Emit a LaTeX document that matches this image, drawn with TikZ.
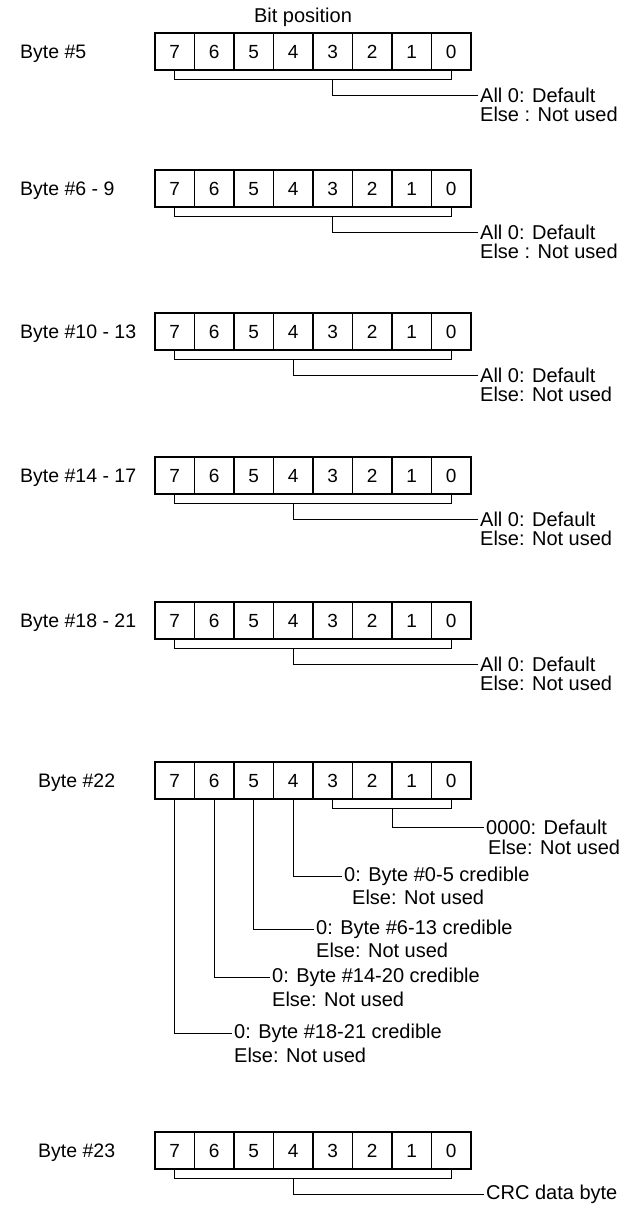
\documentclass[tikz,border=0pt]{standalone}
\usepackage{fontspec}
\setmainfont{Liberation Sans}
\usetikzlibrary{positioning, calc}

\begin{document}
\begin{tikzpicture}[
  x=1pt, y=-1pt,
  every node/.style={font=\fontsize{20}{24}\selectfont},
  bitcell/.style={rectangle, draw, line width=1.5pt,
                  minimum width=39.5pt, minimum height=37pt, inner sep=0pt,
                  text height=13.6pt, text depth=0pt,
                  font=\fontsize{19}{23}\selectfont},
  bytelbl/.style={anchor=base west, inner sep=0pt, font=\fontsize{19.5}{23}\selectfont},
  note/.style={anchor=west, inner sep=2pt},
  brk/.style={line width=1pt},
]
\useasboundingbox (0,0) rectangle (624,1205);

\node (bitpos) at (303,17) {Bit position};

% the eight bit cells of every byte
\foreach \r/\ty in {r5/51.5, r6/188.5, r10/331.5, r14/475.5,
                    r18/620.5, r22/780.5, r23/1150.5}
  \foreach \b in {0,...,7}
    \node[bitcell] (\r-\b) at ({155+39.5*(7-\b)+19.75},\ty) {\b};

% Byte #5
\node[bytelbl] (l5) at (20,58.5) {Byte \#5};
\node[note] (d5) at (478,95)  {All 0: Default};
\node[note] (e5) at (478,114) {Else : Not used};
\draw[brk] (r5-7.south) -- ++(0,9) coordinate (k5) -| (r5-0.south);
\draw[brk] (r5-3.south |- k5) |- (d5.west);

% Byte #6 - 9
\node[bytelbl] (l6) at (20,195.5) {Byte \#6 - 9};
\node[note] (d6) at (478,232) {All 0: Default};
\node[note] (e6) at (478,251) {Else : Not used};
\draw[brk] (r6-7.south) -- ++(0,9) coordinate (k6) -| (r6-0.south);
\draw[brk] (r6-3.south |- k6) |- (d6.west);

% Byte #10 - 13
\node[bytelbl] (l10) at (20,338.5) {Byte \#10 - 13};
\node[note] (d10) at (478,375) {All 0: Default};
\node[note] (e10) at (478,394) {Else: Not used};
\draw[brk] (r10-7.south) -- ++(0,9) coordinate (k10) -| (r10-0.south);
\draw[brk] (r10-4.south |- k10) |- (d10.west);

% Byte #14 - 17
\node[bytelbl] (l14) at (20,482.5) {Byte \#14 - 17};
\node[note] (d14) at (478,519) {All 0: Default};
\node[note] (e14) at (478,538) {Else: Not used};
\draw[brk] (r14-7.south) -- ++(0,9) coordinate (k14) -| (r14-0.south);
\draw[brk] (r14-4.south |- k14) |- (d14.west);

% Byte #18 - 21
\node[bytelbl] (l18) at (20,627.5) {Byte \#18 - 21};
\node[note] (d18) at (478,664) {All 0: Default};
\node[note] (e18) at (478,683) {Else: Not used};
\draw[brk] (r18-7.south) -- ++(0,9) coordinate (k18) -| (r18-0.south);
\draw[brk] (r18-4.south |- k18) |- (d18.west);

% Byte #22
\node[bytelbl] (l22) at (38,787.5) {Byte \#22};
\node[note] (d22) at (484,827) {0000: Default};
\node[note] (e22) at (486,847) {Else: Not used};
\draw[brk] (r22-3.south) -- ++(0,9) coordinate (k22) -| (r22-0.south);
\draw[brk] ($(k22)!0.5!(r22-0.south |- k22)$) |- (d22.west);

\node[note] (c4) at (342,876)  {0: Byte \#0-5 credible};
\node[note] (f4) at (350,897)  {Else: Not used};
\node[note] (c5) at (314,929)  {0: Byte \#6-13 credible};
\node[note] (f5) at (314,950)  {Else: Not used};
\node[note] (c6) at (270,977)  {0: Byte \#14-20 credible};
\node[note] (f6) at (270,999)  {Else: Not used};
\node[note] (c7) at (232,1033) {0: Byte \#18-21 credible};
\node[note] (f7) at (232,1055) {Else: Not used};
\draw[brk] (r22-4.south) |- (c4.west);
\draw[brk] (r22-5.south) |- (c5.west);
\draw[brk] (r22-6.south) |- (c6.west);
\draw[brk] (r22-7.south) |- (c7.west);

% Byte #23
\node[bytelbl] (l23) at (38,1157.5) {Byte \#23};
\node[note] (d23) at (484,1194) {CRC data byte};
\draw[brk] (r23-7.south) -- ++(0,9) coordinate (k23) -| (r23-0.south);
\draw[brk] (r23-4.south |- k23) |- (d23.west);
\end{tikzpicture}
\end{document}
